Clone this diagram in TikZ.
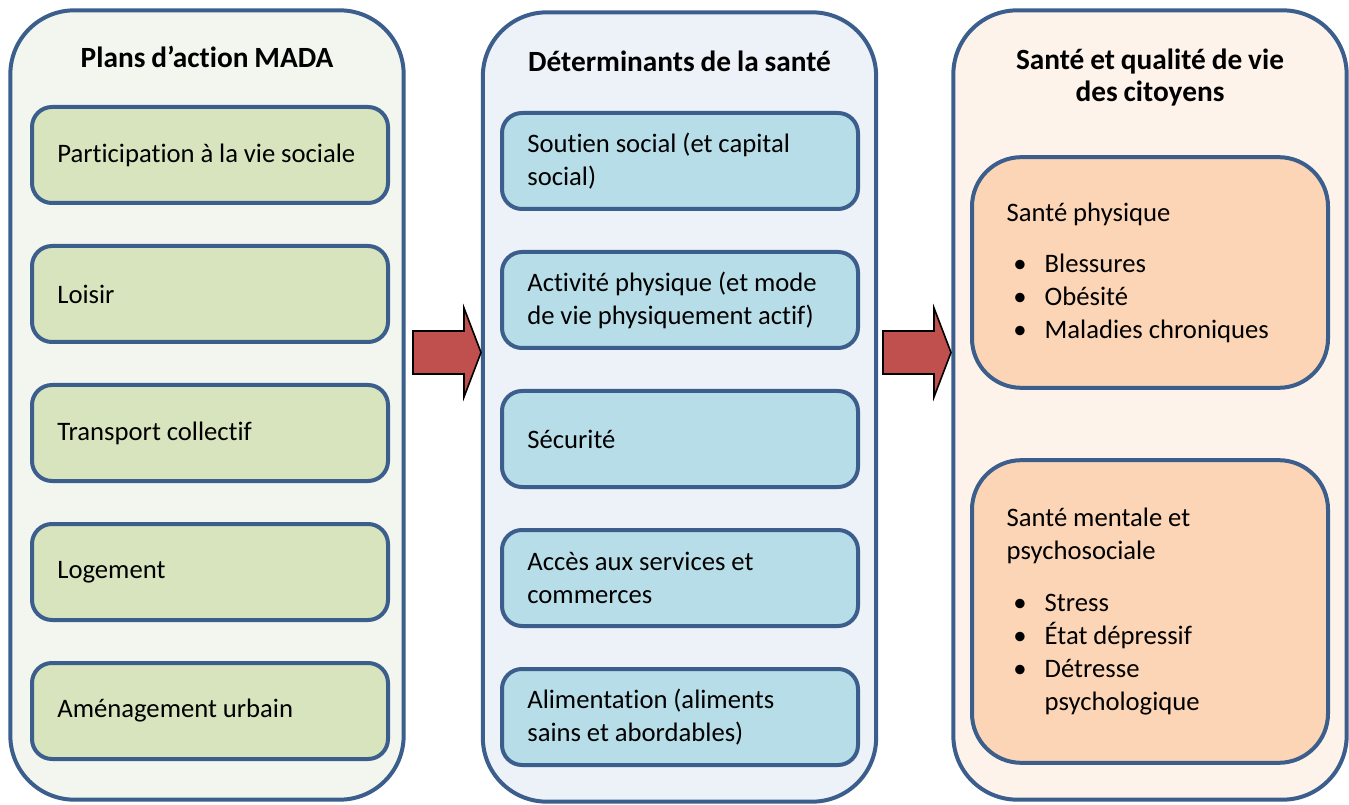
\documentclass[tikz,border=0pt]{standalone}
\usepackage{fontspec}
\setmainfont{Carlito}[Ligatures=NoCommon]
\usetikzlibrary{positioning}
\definecolor{frameblue}{HTML}{3B5E8C}
\definecolor{greenbg}{HTML}{F3F6EE}
\definecolor{greenbox}{HTML}{D7E4BD}
\definecolor{bluebg}{HTML}{EDF1F8}
\definecolor{bluebox}{HTML}{B7DEE8}
\definecolor{peachbg}{HTML}{FDF3EA}
\definecolor{peachbox}{HTML}{FBD5B5}
\definecolor{arrowred}{HTML}{C0504D}
\newcommand{\blt}{\makebox[28.5pt][l]{\hspace{5pt}\textbullet}}

\begin{document}
\begin{tikzpicture}[x=0.75pt,y=-0.75pt,node distance=104.25pt,on grid,
  font=\fontsize{20}{24.75}\selectfont,
  every node/.append style={execute at begin node={\spaceskip=4.4pt plus 1pt minus 0.5pt}},
  panel/.style={draw=frameblue,line width=3pt,rounded corners=48pt,
    minimum width=295pt,minimum height=592pt,inner sep=0pt},
  title/.style={font=\fontsize{22}{24}\selectfont\bfseries,align=center},
  itembox/.style={draw=frameblue,line width=3pt,rounded corners=15pt,
    minimum height=72pt,text width=229pt,inner xsep=19pt,align=left},
  healthbox/.style={draw=frameblue,line width=3pt,rounded corners=37pt,
    fill=peachbox,text width=215pt,inner xsep=26pt,align=left},
  bigarrow/.style={draw=black,line width=1.2pt,fill=arrowred}]
  \useasboundingbox (0,0) rectangle (1349,805);

  % three columns
  \node[panel,fill=greenbg] (plans) at (207,405) {};
  \node[panel,fill=bluebg] (determ) at (679.5,407) {};
  \node[panel,fill=peachbg] (sante) at (1150,405) {};

  \node[title,anchor=base] (tplans) at (207,68) {Plans d’action MADA};
  \node[title,anchor=base] (tdeterm) at (679.5,72) {Déterminants de la santé};
  \node[title] (tsante) at (1150,78) {Santé et qualité de vie\\des citoyens};

  % plans d'action
  \node[itembox,fill=greenbox] (part) at (210,155) {\mbox{Participation à la vie sociale}};
  \node[itembox,fill=greenbox] (loisir) [below = of part] {Loisir};
  \node[itembox,fill=greenbox] (transp) [below = of loisir] {Transport collectif};
  \node[itembox,fill=greenbox] (logt) [below = of transp] {Logement};
  \node[itembox,fill=greenbox] (amen) [below = of logt] {Aménagement urbain};

  % determinants
  \node[itembox,fill=bluebox] (soutien) at (680,161) {Soutien social (et capital\\social)};
  \node[itembox,fill=bluebox] (activ) [below = of soutien] {\mbox{Activité physique (et mode}\\\mbox{de vie physiquement actif)}};
  \node[itembox,fill=bluebox] (secur) [below = of activ] {Sécurité};
  \node[itembox,fill=bluebox] (acces) [below = of secur] {Accès aux services et\\commerces};
  \node[itembox,fill=bluebox] (alim) [below = of acces] {Alimentation (aliments\\sains et abordables)};

  % sante
  \node[healthbox,minimum height=173pt] (physique) at (1150,272.5)
    {Santé physique\\[13.5pt]\blt Blessures\\\blt Obésité\\\blt\mbox{Maladies chroniques}};
  \node[healthbox,minimum height=227pt] (mentale) at (1150,611.5)
    {Santé mentale et\\psychosociale\\[14pt]\blt Stress\\\blt État dépressif\\
     \blt Détresse\\\hspace*{28.5pt}psychologique};

  % arrows between columns
  \foreach \x in {413,883}
    \draw[bigarrow] (\x,331) -- (\x+51,331) -- (\x+51,308) -- (\x+68,352.5)
      -- (\x+51,397) -- (\x+51,374) -- (\x,374) -- cycle;
\end{tikzpicture}
\end{document}
